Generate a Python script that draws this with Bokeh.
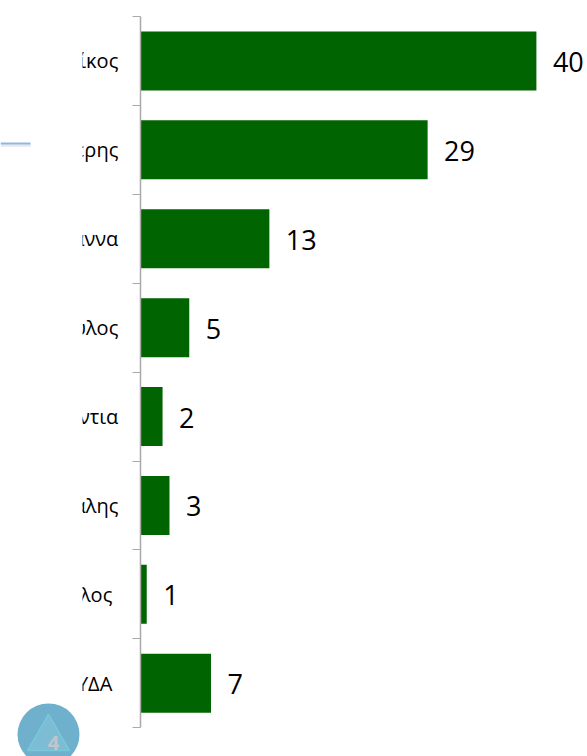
from bokeh.plotting import figure
from bokeh.models import Range1d, FixedTicker, ColumnDataSource, BoxAnnotation, Label
from bokeh.core.properties import value
from bokeh.embed import file_html
from bokeh.resources import INLINE

categories = ["ίκος", "ερης", "άννα", "υλος", "ντια", "άλης", "λος", "ΥΔΑ"]
series_values = [40, 29, 13, 4.9, 2.2, 2.9, 0.6, 7.1]
value_labels = ["40", "29", "13", "5", "2", "3", "1", "7"]
label_right_shift = [0, 0, 0, 0, 0, 0, -6, -6]

W, H = 587, 756
X0, XS = 140.3, 9.89    # px of value 0, px per unit
Y0, YS = 16.0, 88.9     # px of first tick, px per category

def dx(px):
    return (px - X0) / XS

def dy(px):
    return (px - Y0) / YS

p = figure(width=W, height=H, output_backend="svg", toolbar_location=None,
           x_range=Range1d(dx(0), dx(W)),
           y_range=Range1d(dy(H), dy(0)),
           min_border=0, min_border_left=0, min_border_right=0,
           min_border_top=0, min_border_bottom=0)
p.outline_line_color = None
p.grid.visible = False
p.xaxis.visible = False
p.background_fill_color = "white"
p.border_fill_color = "white"

ax = p.yaxis[0]
ax.fixed_location = 0
ax.bounds = (0, len(categories))
ax.ticker = FixedTicker(ticks=list(range(len(categories) + 1)))
ax.major_label_text_color = None
ax.major_label_text_font_size = "1px"
ax.major_tick_in = 0
ax.major_tick_out = 8
ax.minor_tick_out = 0
ax.minor_tick_in = 0
ax.axis_line_color = "#a9a9a9"
ax.axis_line_width = 1.5
ax.major_tick_line_color = "#a9a9a9"
ax.major_tick_line_width = 1

centers = [i + 0.5 for i in range(len(categories))]
src = ColumnDataSource(dict(y=centers, v=series_values, lab=value_labels, cat=categories,
                            zero=[0] * len(categories),
                            off=[-22.5 + s for s in label_right_shift]))

p.hbar(y="y", right="v", left=0, height=0.664, source=src, fill_color="#006400", line_color=None)
p.text(x="v", y="y", text="lab", source=src, x_offset=16.5, y_offset=1, text_align="left", text_baseline="middle",
       text_font=value("Open Sans"), text_font_size="27px", text_color="#000000")
p.text(x="zero", y="y", text="cat", source=src, x_offset="off", text_align="right", text_baseline="middle",
       text_font=value("Open Sans"), text_font_size="20px", text_color="#000000")

# white mask that crops the category labels on their left, as in the reference
p.add_layout(BoxAnnotation(left=35, right=82, top=H - 15, bottom=H - 700,
                           left_units="screen", right_units="screen", top_units="screen", bottom_units="screen",
                           fill_color="white", fill_alpha=1, line_color=None, level="overlay"))

# decorative remnants: blue rule and round badge
p.line([dx(0), dx(30)], [dy(145), dy(145)], line_color="#e8e8e8", line_width=2.5)
p.line([dx(0), dx(30)], [dy(143), dy(143)], line_color="#8fb6ea", line_width=2)
p.scatter([dx(48)], [dy(734)], size=62, marker="circle", fill_color="#6fb0cd", line_color=None)
p.scatter([dx(48)], [dy(738)], size=42, marker="triangle", fill_color="#86c6d8", fill_alpha=0.6,
          line_color="#78c8da", line_width=1.5)
p.add_layout(Label(x=53, y=H - 742, x_units="screen", y_units="screen", text="4", text_align="center",
                   text_baseline="middle", text_font="Open Sans", text_font_size="20px", text_font_style="bold",
                   text_color="#c3c5cc"))

open("out.html", "w").write(file_html(p, INLINE))
